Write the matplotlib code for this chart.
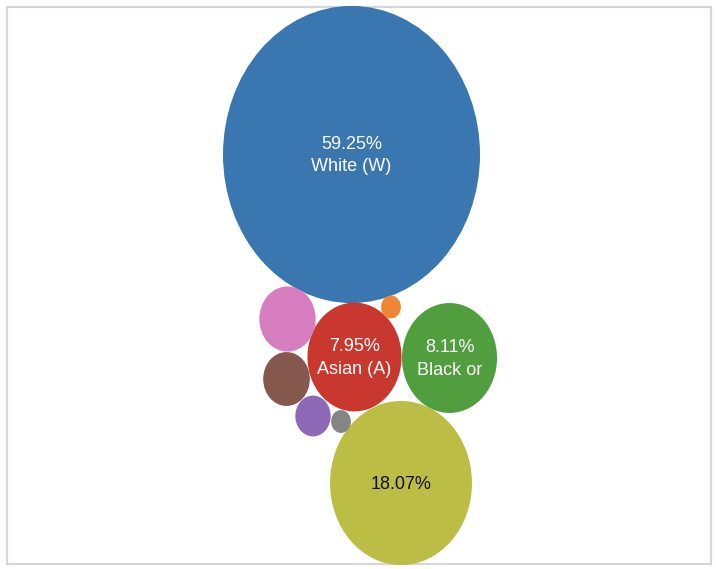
import matplotlib.pyplot as plt
from matplotlib.patches import Ellipse, Rectangle
import numpy as np

# data
groups = ["White (W)", "Hispanic or Latino (H)", "Black or African American (B)", "Asian (A)",
          "Two or More Races", "Some Other Race", "American Indian", "Native Hawaiian", "Other"]
shares = [59.25, 18.07, 8.11, 7.95, 2.85, 1.95, 1.12, 0.35, 0.35]
labels = ["59.25%\nWhite (W)", "18.07%", "8.11%\nBlack or", "7.95%\nAsian (A)", "", "", "", "", ""]
colors = ["#3a76af", "#bcbd45", "#519e3e", "#c8382f", "#d67ebf", "#85584d", "#8d69b8", "#858585", "#ef8636"]
text_colors = ["white", "#111111", "white", "white", "white", "white", "white", "white", "white"]

# packed layout (pixel centers)
cx = [351.5, 401, 449.5, 354.5, 287.5, 286.5, 313, 341, 391]
cy = [154.5, 483, 358, 357, 319, 379, 416, 421.5, 307]

fig = plt.figure(figsize=(7.16, 5.69), dpi=100)
ax = fig.add_axes([0, 0, 1, 1])
ax.set_xlim(0, 716)
ax.set_ylim(569, 0)
ax.axis("off")

ax.add_patch(Rectangle((7, 7), 704, 557, fill=False, edgecolor="#d6d6d6", lw=1.6))

k = 257 / np.sqrt(shares[0])
for i in range(len(shares)):
    w = k * np.sqrt(shares[i])
    ax.add_patch(Ellipse((cx[i], cy[i]), w, w * 1.156, facecolor=colors[i], edgecolor="none"))
    if labels[i]:
        ax.text(cx[i], cy[i] + 1, labels[i], ha="center", va="center", color=text_colors[i],
                fontsize=13, family="Liberation Sans", linespacing=1.43)

fig.savefig("out.png", dpi=100)
